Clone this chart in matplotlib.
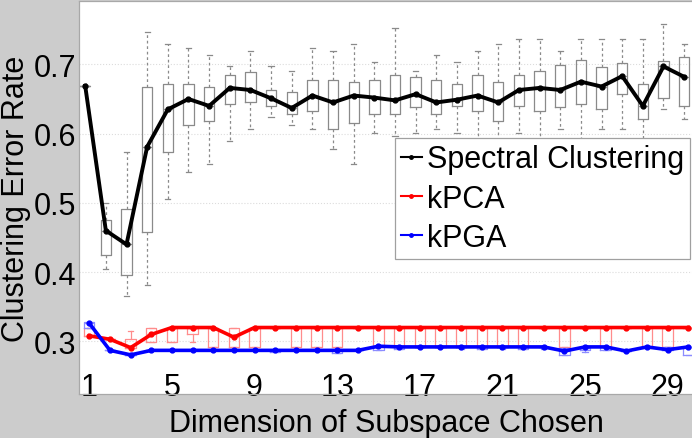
import matplotlib
matplotlib.use("Agg")
import matplotlib.pyplot as plt
import numpy as np

plt.rcParams['font.family'] = ['Liberation Sans', 'DejaVu Sans']

# ---------------- data ----------------
dims = list(range(1, 31))
xtick_vals = [1, 5, 9, 13, 17, 21, 25, 29]
ytick_vals = [0.3, 0.4, 0.5, 0.6, 0.7]
ytick_labels = ["0.3", "0.4", "0.5", "0.6", "0.7"]
series_names = ["Spectral Clustering", "kPCA", "kPGA"]

# Spectral clustering
sc_line = [0.669, 0.460, 0.440, 0.581, 0.635, 0.650, 0.640, 0.666, 0.663, 0.651,
           0.637, 0.655, 0.645, 0.655, 0.652, 0.648, 0.657, 0.645, 0.649, 0.655,
           0.645, 0.663, 0.666, 0.663, 0.675, 0.668, 0.683, 0.640, 0.697, 0.682]
sc_q1 = [0.669, 0.424, 0.396, 0.458, 0.573, 0.612, 0.618, 0.643, 0.646, 0.640,
         0.629, 0.632, 0.607, 0.615, 0.629, 0.629, 0.638, 0.629, 0.640, 0.632,
         0.618, 0.640, 0.632, 0.638, 0.643, 0.635, 0.657, 0.621, 0.652, 0.640]
sc_q3 = [0.669, 0.475, 0.491, 0.668, 0.671, 0.671, 0.668, 0.685, 0.689, 0.663,
         0.660, 0.677, 0.677, 0.674, 0.677, 0.685, 0.682, 0.677, 0.671, 0.685,
         0.674, 0.685, 0.691, 0.699, 0.707, 0.696, 0.702, 0.671, 0.705, 0.710]
sc_lo = [0.669, 0.404, 0.365, 0.382, 0.505, 0.545, 0.556, 0.589, 0.607, 0.624,
         0.613, 0.607, 0.578, 0.556, 0.601, 0.596, 0.601, 0.607, 0.601, 0.580,
         0.570, 0.601, 0.580, 0.607, 0.580, 0.607, 0.607, 0.590, 0.635, 0.621]
sc_hi = [0.669, 0.500, 0.573, 0.747, 0.730, 0.724, 0.713, 0.697, 0.719, 0.697,
         0.691, 0.724, 0.719, 0.730, 0.703, 0.753, 0.691, 0.713, 0.703, 0.719,
         0.730, 0.736, 0.736, 0.719, 0.736, 0.736, 0.736, 0.736, 0.759, 0.730]

# kPCA
kpca_line = [0.308, 0.303, 0.291, 0.310, 0.320, 0.320, 0.320, 0.306, 0.320, 0.320,
             0.320, 0.320, 0.320, 0.320, 0.320, 0.320, 0.320, 0.320, 0.320, 0.320,
             0.320, 0.320, 0.320, 0.320, 0.320, 0.320, 0.320, 0.320, 0.320, 0.320]
kpca_q1 = [0.308, 0.303, 0.291, 0.299, 0.299, 0.310, 0.292, 0.292, 0.292, 0.320,
           0.292, 0.292, 0.292, 0.320, 0.292, 0.292, 0.292, 0.292, 0.292, 0.292,
           0.292, 0.292, 0.320, 0.292, 0.320, 0.292, 0.320, 0.292, 0.292, 0.320]
kpca_q3 = [0.320, 0.303, 0.303, 0.320, 0.320, 0.320, 0.320, 0.320, 0.320, 0.320,
           0.320, 0.320, 0.320, 0.320, 0.320, 0.320, 0.320, 0.320, 0.320, 0.320,
           0.320, 0.320, 0.320, 0.320, 0.320, 0.320, 0.320, 0.320, 0.320, 0.320]
kpca_lo = [0.308, 0.303, 0.291, 0.299, 0.299, 0.299, 0.292, 0.292, 0.292, 0.320,
           0.292, 0.292, 0.292, 0.320, 0.292, 0.292, 0.292, 0.292, 0.292, 0.292,
           0.292, 0.292, 0.320, 0.292, 0.320, 0.292, 0.320, 0.292, 0.292, 0.320]
kpca_hi = [0.320, 0.303, 0.315, 0.320, 0.320, 0.320, 0.320, 0.320, 0.320, 0.320,
           0.320, 0.320, 0.320, 0.320, 0.320, 0.320, 0.320, 0.320, 0.320, 0.320,
           0.320, 0.320, 0.320, 0.320, 0.320, 0.320, 0.320, 0.320, 0.320, 0.320]

# kPGA
kpga_line = [0.326, 0.287, 0.2805, 0.287, 0.287, 0.287, 0.287, 0.287, 0.287, 0.287,
             0.287, 0.287, 0.287, 0.287, 0.293, 0.292, 0.292, 0.292, 0.292, 0.292,
             0.292, 0.292, 0.292, 0.286, 0.292, 0.292, 0.286, 0.292, 0.288, 0.292]
kpga_q1 = [0.320, 0.287, 0.2805, 0.287, 0.287, 0.287, 0.287, 0.287, 0.287, 0.284,
           0.287, 0.287, 0.283, 0.287, 0.287, 0.289, 0.292, 0.292, 0.292, 0.289,
           0.292, 0.289, 0.292, 0.281, 0.287, 0.288, 0.286, 0.292, 0.288, 0.281]
kpga_q3 = [0.328, 0.287, 0.2805, 0.287, 0.287, 0.287, 0.287, 0.287, 0.287, 0.287,
           0.287, 0.287, 0.287, 0.287, 0.293, 0.292, 0.292, 0.292, 0.292, 0.292,
           0.292, 0.292, 0.292, 0.2905, 0.291, 0.2925, 0.286, 0.2925, 0.292, 0.2925]
kpga_lo = [0.320, 0.287, 0.2805, 0.287, 0.287, 0.287, 0.287, 0.287, 0.287, 0.284,
           0.287, 0.287, 0.283, 0.287, 0.287, 0.289, 0.292, 0.292, 0.289, 0.289,
           0.289, 0.289, 0.289, 0.281, 0.285, 0.288, 0.286, 0.292, 0.288, 0.281]
kpga_hi = kpga_q3

# ---------------- figure ----------------
W, H = 692, 439
fig = plt.figure(figsize=(W / 100, H / 100), dpi=100, facecolor='#cccccc')
ax = fig.add_axes([79 / W, 44 / H, 619.6 / W, 393 / H])
ax.set_facecolor('white')

x = np.array(dims, dtype=float)
x_sc = x - 0.2


def make_stats(lo, q1, med, q3, hi):
    out = []
    for a, b, c, d, e in zip(lo, q1, med, q3, hi):
        c = min(max(c, b), d)
        out.append(dict(whislo=a, q1=b, med=c, q3=d, whishi=e, fliers=[]))
    return out


def draw_boxes(stats, pos, col, ls_wh, z):
    ax.bxp(stats, positions=pos, widths=0.5, showfliers=False,
           manage_ticks=False, capwidths=0.25,
           boxprops=dict(color=col, lw=0.9),
           whiskerprops=dict(color=col, lw=0.9, ls=ls_wh),
           capprops=dict(color=col, lw=0.9),
           medianprops=dict(color=col, lw=0.9),
           zorder=z)


draw_boxes(make_stats(sc_lo, sc_q1, sc_line, sc_q3, sc_hi), x_sc, '#8a8a8a', (0, (2.2, 2.2)), 2)
draw_boxes(make_stats(kpca_lo, kpca_q1, kpca_line, kpca_q3, kpca_hi), x, '#ff8c8c', '-', 2)
draw_boxes(make_stats(kpga_lo, kpga_q1, kpga_line, kpga_q3, kpga_hi), x, '#8c8cff', '-', 2)

l_pca, = ax.plot(x, kpca_line, color='#ff0000', lw=2.6, marker='.', ms=7, zorder=4)
l_pga, = ax.plot(x, kpga_line, color='#0000ff', lw=2.6, marker='.', ms=7, zorder=5)
l_sc, = ax.plot(x_sc, sc_line, color='black', lw=2.8, marker='.', ms=7, zorder=6)

ax.set_xlim(0.5, 30.5)
ax.set_ylim(0.224, 0.7915)
ax.set_xticks(xtick_vals)
ax.set_xticklabels([str(v) for v in xtick_vals])
ax.set_yticks(ytick_vals)
ax.set_yticklabels(ytick_labels)
ax.tick_params(axis='both', length=0, labelsize=22, colors='black')
ax.tick_params(axis='y', pad=2)
ax.tick_params(axis='x', pad=-16)

ax.yaxis.grid(True, color='#dcdcdc', ls=':', lw=0.8)
ax.set_axisbelow(True)
for s in ['top', 'bottom', 'left', 'right']:
    ax.spines[s].set_color('#a8a8a8')
    ax.spines[s].set_linewidth(0.9)

fig.text(386 / W, 1 - 424 / H, 'Dimension of Subspace Chosen', fontsize=22,
         ha='center', va='center')
fig.text(16 / W, 1 - 198.5 / H, 'Clustering Error Rate', fontsize=22,
         rotation=90, ha='center', va='center')

leg = ax.legend([l_sc, l_pca, l_pga], series_names, loc='upper right',
                bbox_to_anchor=((690 - 79) / 619.6, (395 - 139.3) / 393),
                fontsize=22, frameon=True, fancybox=False, framealpha=1,
                edgecolor='#a0a0a0', borderpad=0.2, labelspacing=0.3,
                handlelength=0.7, handletextpad=0.15, borderaxespad=0)
leg.get_frame().set_linewidth(0.9)
for h in leg.get_lines():
    h.set_linewidth(1.5)
    h.set_markersize(5)

fig.savefig('out.png', dpi=100, facecolor=fig.get_facecolor())
